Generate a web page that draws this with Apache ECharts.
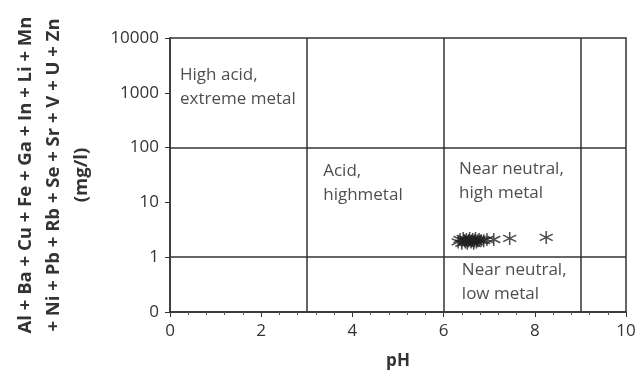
<!DOCTYPE html>
<html>
<head>
<meta charset="utf-8">
<script src="https://cdn.jsdelivr.net/npm/echarts@6/dist/echarts.min.js"></script>
<style>
  html, body { margin: 0; padding: 0; background: #fff; }
  #chart { width: 636px; height: 375px; }
</style>
</head>
<body>
<div id="chart"></div>
<script>
// sample points: pH and summed metal concentration (mg/l)
const phValues = [6.32, 6.36, 6.40, 6.43, 6.46, 6.48, 6.50, 6.52, 6.55, 6.57, 6.60, 6.62, 6.64, 6.66, 6.68, 6.70, 6.72, 6.75, 6.78, 6.82, 6.88, 6.95, 7.10, 7.45, 8.25];
const metalValues = [1.9, 2.1, 1.8, 2.2, 2.0, 1.9, 2.1, 1.8, 2.0, 2.2, 1.9, 2.0, 2.1, 1.8, 2.0, 2.2, 1.9, 2.0, 2.1, 2.0, 2.0, 2.1, 2.1, 2.2, 2.3];

// class boundaries of the diagram
const phBounds = [3, 6, 9];
const metalBounds = [1, 100];

// region labels: [pH, mg/l, text]
const regionLabels = [
  [0.22, 1280, 'High acid,\nextreme metal'],
  [3.36, 22, 'Acid,\nhighmetal'],
  [6.34, 24, 'Near neutral,\nhigh metal'],
  [6.4, 0.35, 'Near neutral,\nlow metal']
];

const asterisk = 'path://M0,-10L0,10M-8.7,-5L8.7,5M-8.7,5L8.7,-5';

const chart = echarts.init(document.getElementById('chart'));

const option = {
  animation: false,
  grid: {
    left: 170,
    right: 10,
    top: 38,
    bottom: 63,
    outerBoundsMode: 'none',
    containLabel: false,
    show: true,
    borderColor: '#333',
    borderWidth: 1.5
  },
  xAxis: {
    type: 'value',
    min: 0,
    max: 10,
    interval: 2,
    name: 'pH',
    nameLocation: 'middle',
    nameGap: 41,
    nameTextStyle: { fontFamily: 'Open Sans', fontWeight: 'bold', fontSize: 17, color: '#333' },
    axisLine: { lineStyle: { color: '#333', width: 1.5 } },
    axisTick: { length: 5, lineStyle: { color: '#333' } },
    minorTick: { show: true, splitNumber: 5, length: 3, lineStyle: { color: '#555' } },
    axisLabel: { fontFamily: 'Open Sans', fontSize: 17, color: '#333', margin: 11 },
    splitLine: { show: false }
  },
  yAxis: {
    type: 'log',
    logBase: 10,
    min: 0.1,
    max: 10000,
    name: 'Al + Ba + Cu + Fe + Ga + In + Li + Mn\n+ Ni + Pb + Rb + Se + Sr + V + U + Zn\n(mg/l)',
    nameLocation: 'middle',
    nameRotate: 90,
    nameGap: 74,
    nameTextStyle: { fontFamily: 'Open Sans', fontWeight: 'bold', fontSize: 18.5, color: '#333', lineHeight: 28 },
    axisLine: { show: true, lineStyle: { color: '#333', width: 1.5 } },
    axisTick: { length: 5, lineStyle: { color: '#333' } },
    axisLabel: {
      fontFamily: 'Open Sans', fontSize: 17, color: '#333', margin: 11,
      formatter: v => (v < 1 ? '0' : String(Math.round(v)))
    },
    splitLine: { show: false }
  },
  series: [
    {
      type: 'scatter',
      data: phValues.map((p, i) => [p, metalValues[i]]),
      symbol: asterisk,
      symbolSize: 13,
      itemStyle: { color: 'transparent', borderColor: '#222', borderWidth: 1.5 },
      z: 5,
      markLine: {
        silent: true,
        symbol: 'none',
        label: { show: false },
        lineStyle: { color: '#333', width: 1.5, type: 'solid' },
        data: phBounds.map(v => ({ xAxis: v })).concat(metalBounds.map(v => ({ yAxis: v })))
      }
    },
    {
      type: 'scatter',
      data: regionLabels,
      symbolSize: 0,
      silent: true,
      label: {
        show: true,
        position: 'right',
        distance: 0,
        formatter: p => p.data[2],
        fontFamily: 'Open Sans',
        fontSize: 17,
        lineHeight: 24,
        color: '#222',
        align: 'left'
      }
    }
  ]
};

chart.setOption(option);
</script>
</body>
</html>
